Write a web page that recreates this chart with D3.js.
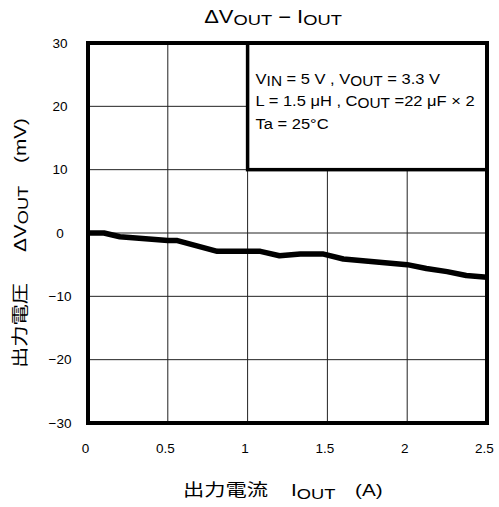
<!DOCTYPE html>
<html>
<head>
<meta charset="utf-8">
<script src="https://cdn.jsdelivr.net/npm/d3@7"></script>
<style>
  body { margin: 0; background: #fff; }
  text { font-family: "Liberation Sans", Arial, sans-serif; fill: #000; }
  .jp { font-family: "Noto Sans CJK JP", sans-serif; }
</style>
</head>
<body>
<svg id="chart"></svg>
<script>
// values
let current = [0, 0.1, 0.2, 0.5, 0.56, 0.81, 1.08, 1.2, 1.33, 1.47, 1.6, 2.0, 2.12, 2.25, 2.37, 2.5];
let deltaV  = [0, 0, -0.6, -1.2, -1.2, -2.9, -2.9, -3.6, -3.3, -3.3, -4.1, -5.0, -5.6, -6.1, -6.7, -7.0];
let xTicks = [0, 0.5, 1, 1.5, 2, 2.5];
let yTicks = [-30, -20, -10, 0, 10, 20, 30];

let w = 499, h = 507;
let margin = { top: 43, right: 12, bottom: 84, left: 88 };

let svg = d3.select("#chart")
    .attr("width", w)
    .attr("height", h);

let xScale = d3.scaleLinear()
    .domain([0, 2.5])
    .range([margin.left, w - margin.right]);

let yScale = d3.scaleLinear()
    .domain([-30, 30])
    .range([h - margin.bottom, margin.top]);

// grid
svg.append("g")
    .selectAll("line")
    .data(xTicks.slice(1, -1))
    .enter()
    .append("line")
    .attr("x1", d => xScale(d)).attr("x2", d => xScale(d))
    .attr("y1", yScale(30)).attr("y2", yScale(-30))
    .attr("stroke", "#222").attr("stroke-width", 1);

svg.append("g")
    .selectAll("line")
    .data(yTicks.slice(1, -1))
    .enter()
    .append("line")
    .attr("x1", xScale(0)).attr("x2", xScale(2.5))
    .attr("y1", d => yScale(d)).attr("y2", d => yScale(d))
    .attr("stroke", "#222").attr("stroke-width", 1);

// data line
let line = d3.line()
    .x((d, i) => xScale(current[i]))
    .y(d => yScale(d));

svg.append("path")
    .datum(deltaV)
    .attr("d", line)
    .attr("fill", "none")
    .attr("stroke", "#000")
    .attr("stroke-width", 5.5)
    .attr("stroke-linejoin", "round");

// legend box (covers the grid from 1A to 2.5A, 10mV to 30mV)
svg.append("rect")
    .attr("x", xScale(1))
    .attr("y", yScale(30))
    .attr("width", xScale(2.5) - xScale(1))
    .attr("height", yScale(10) - yScale(30))
    .attr("fill", "#fff")
    .attr("stroke", "#000")
    .attr("stroke-width", 3.5);

// frame
svg.append("rect")
    .attr("x", xScale(0))
    .attr("y", yScale(30))
    .attr("width", xScale(2.5) - xScale(0))
    .attr("height", yScale(-30) - yScale(30))
    .attr("fill", "none")
    .attr("stroke", "#000")
    .attr("stroke-width", 4);

// axes (labels only)
let xAxis = d3.axisBottom(xScale)
    .tickValues(xTicks)
    .tickFormat(d3.format("~g"))
    .tickSize(0)
    .tickPadding(20);

svg.append("g")
    .attr("transform", "translate(-3," + yScale(-30) + ")")
    .call(xAxis)
    .call(g => g.select(".domain").remove())
    .selectAll("text")
    .style("font-size", "13.5px")
    .style("font-family", "'Liberation Sans', Arial, sans-serif");

// y tick labels are centred in the reference
let yAxis = d3.axisLeft(yScale)
    .tickValues(yTicks)
    .tickSize(0)
    .tickPadding(28);

svg.append("g")
    .attr("transform", "translate(" + xScale(0) + ",0)")
    .call(yAxis)
    .call(g => g.select(".domain").remove())
    .selectAll("text")
    .attr("text-anchor", "middle")
    .style("font-size", "13.5px")
    .style("font-family", "'Liberation Sans', Arial, sans-serif");

// text with subscripts, horizontally stretched like the reference
// parts: [text, isSub, isJp]
function label(parent, x, y, anchor, parts, size, subSize, subShift, stretch) {
    let g = parent.append("g")
        .attr("transform", "translate(" + x + "," + y + ") scale(" + stretch + ",1)");
    let t = g.append("text").attr("text-anchor", anchor);
    let shifted = false;
    parts.forEach(p => {
        let s = t.append("tspan").text(p[0]);
        if (p[1]) {
            s.attr("font-size", subSize);
            if (!shifted) { s.attr("dy", subShift); shifted = true; }
        } else {
            s.attr("font-size", size);
            if (shifted) { s.attr("dy", -subShift); shifted = false; }
        }
        if (p[2]) s.attr("class", "jp");
    });
    return g;
}

// title
label(svg, 273, 23, "middle",
    [["ΔV"], ["OUT", true], [" − I"], ["OUT", true]], 18, 15, 2, 1.22);

// legend text
let lx = xScale(1) + 8;
label(svg, lx, 83.5, "start",
    [["V"], ["IN", true], [" = 5 V , V"], ["OUT", true], [" = 3.3 V"]], 15, 14, 2, 1.1);
label(svg, lx, 106, "start",
    [["L = 1.5 μH , C"], ["OUT", true], [" =22 μF × 2"]], 15, 14, 2, 1.1);
label(svg, lx, 128.5, "start",
    [["Ta = 25°C"]], 15, 14, 2, 1.1);

// x label
label(svg, 183, 496, "start", [["出力電流", false, true]], 17, 15, 3, 1.25);
label(svg, 291, 496, "start", [["I"], ["OUT", true]], 17, 15, 3, 1.22);
label(svg, 355, 496, "start", [["(A)"]], 17, 15, 3, 1.22);

// y label (rotated)
let yl = svg.append("g").attr("transform", "translate(26,0) rotate(-90)");
label(yl, -368, 0, "start", [["出力電圧", false, true]], 17, 15, 2, 1.25);
label(yl, -252, 0, "start", [["ΔV"], ["OUT", true]], 17, 15, 2, 1.22);
label(yl, -163, 0, "start", [["(mV)"]], 17, 15, 2, 1.22);
</script>
</body>
</html>
